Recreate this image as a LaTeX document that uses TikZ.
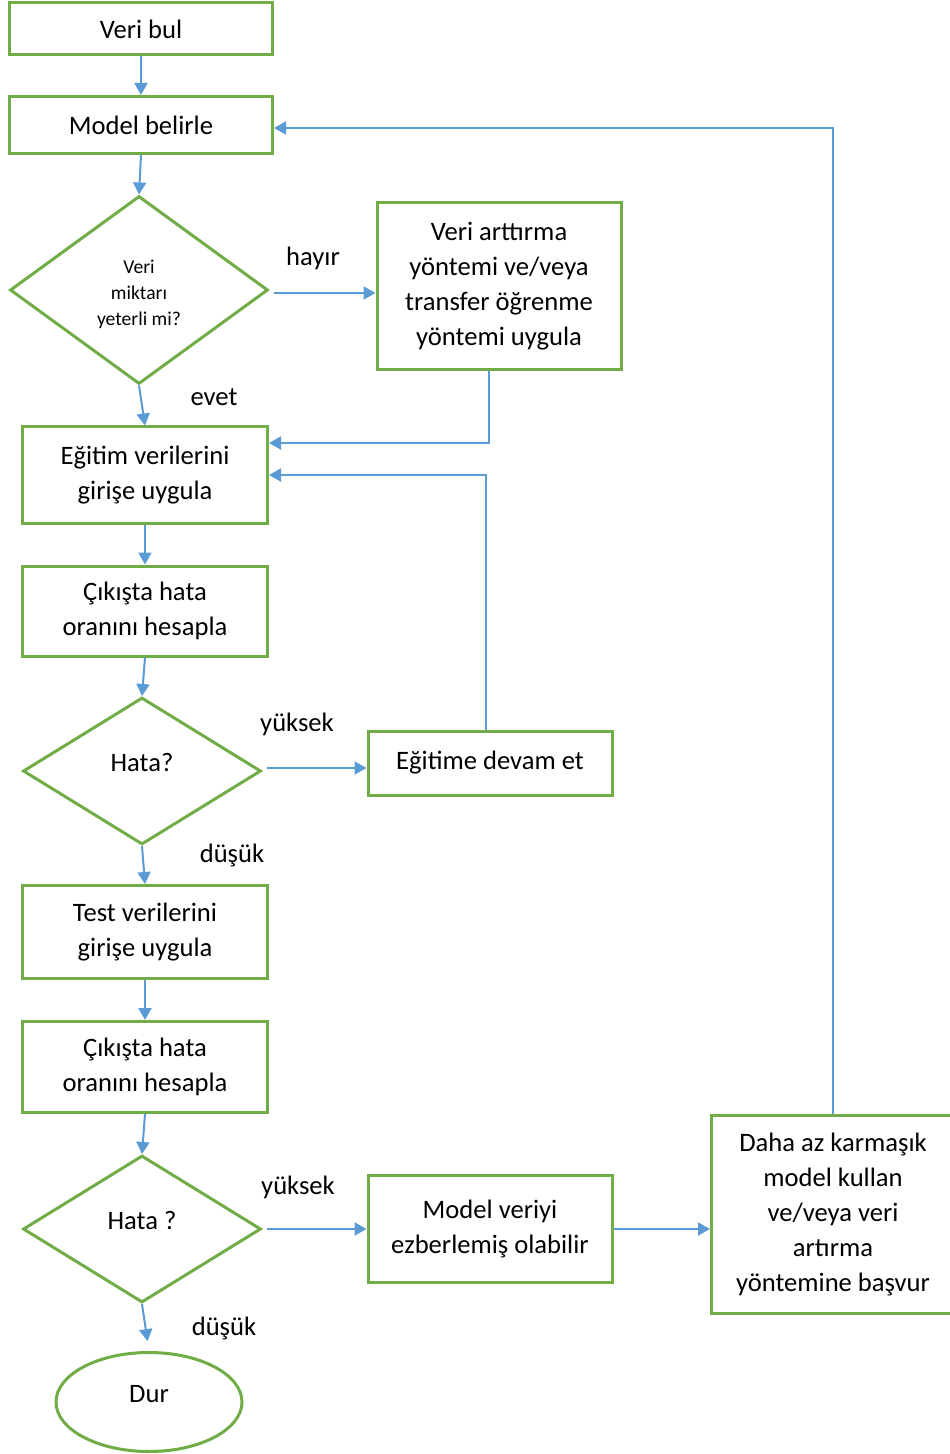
\documentclass[tikz,border=0pt]{standalone}
\usepackage{fontspec}
\setmainfont{Carlito}
\usetikzlibrary{shapes.geometric,arrows.meta}

\definecolor{box edge}{HTML}{70AD47}
\definecolor{link line}{HTML}{5B9BD5}
\tikzset{
  boxtext/.style={font=\fontsize{13.3}{17.5}\selectfont},
  smalltext/.style={font=\fontsize{9.8}{13}\selectfont}
  }
\tikzstyle{process} = [draw=box edge, line width=1.5pt, rectangle, align=center, inner sep=0pt, boxtext]
\tikzstyle{decision} = [draw=box edge, line width=1.5pt, diamond, align=center, inner sep=0pt, boxtext]
\tikzstyle{terminal} = [draw=box edge, line width=1.5pt, ellipse, inner sep=0pt, boxtext]
\tikzstyle{link} = [draw=link line, line width=1pt, -{Triangle[length=6pt,width=6.5pt]}]
\tikzstyle{answer} = [inner sep=1pt, boxtext]

\begin{document}
\begin{tikzpicture}[x=0.5pt, y=-0.5pt]
  \useasboundingbox (0,0) rectangle (949,1454);

  % The main column
  \node[process, minimum width=131.5pt, minimum height=26pt] (find) at (141,29) {Veri bul};
  \node[process, minimum width=131.5pt, minimum height=28.5pt] (model) at (141,125) {Model belirle};
  \node[decision, smalltext, minimum width=129pt, minimum height=94pt] (enough) at (139,290) {\rule{0pt}{11pt}Veri\\miktarı\\yeterli mi?};
  \node[process, minimum width=122.5pt, minimum height=48pt] (train) at (145,475) {Eğitim verilerini\\girişe uygula};
  \node[process, minimum width=122.5pt, minimum height=45pt] (errA) at (145,611) {Çıkışta hata\\oranını hesapla};
  \node[decision, minimum width=119pt, minimum height=73.5pt] (checkA) at (142,771) {Hata?\\[-9pt]};
  \node[process, minimum width=122.5pt, minimum height=46.5pt] (test) at (145,932) {Test verilerini\\girişe uygula};
  \node[process, minimum width=122.5pt, minimum height=45.5pt] (errB) at (145,1067) {Çıkışta hata\\oranını hesapla};
  \node[decision, minimum width=119pt, minimum height=73.5pt] (checkB) at (142,1229) {Hata ?\\[-9pt]};
  \node[terminal, minimum width=93pt, minimum height=49.5pt] (stop) at (149,1402) {Dur\rule[-8pt]{0pt}{8pt}};

  % the side boxes
  \node[process, minimum width=122pt, minimum height=83.5pt] (augment) at (499,286) {Veri arttırma\\yöntemi ve/veya\\transfer öğrenme\\yöntemi uygula};
  \node[process, minimum width=122pt, minimum height=32pt] (resume) at (490,763) {Eğitime devam et};
  \node[process, minimum width=122pt, minimum height=53.5pt] (memo) at (490,1229) {Model veriyi\\ezberlemiş olabilir};
  \node[process, minimum width=121.5pt, minimum height=99pt] (simpler) at (833,1214) {Daha az karmaşık\\model kullan\\ve/veya veri\\artırma\\yöntemine başvur};

  % The answers
  \node[answer] (no) at (313,258) {hayır};
  \node[answer] (yes) at (214,397) {evet};
  \node[answer] (highA) at (297,724) {yüksek};
  \node[answer] (lowA) at (232,855) {düşük};
  \node[answer] (highB) at (298,1187) {yüksek};
  \node[answer] (lowB) at (224,1328) {düşük};

  % The connections down the column
  \foreach \source/\sink in {find/model, model/enough, enough/train, train/errA, errA/checkA, checkA/test, test/errB, errB/checkB}
    \path[link] (\source.south) -- (\sink.north);
  \path[link, shorten >=5pt] (checkB.south) -- (stop.north);

  % and the ones going sideways
  \path[link, shorten <=2pt] ([yshift=-1.5pt]enough.east) -- ([yshift=-1.5pt]enough.east -| augment.west);
  \path[link, shorten <=2pt] ([yshift=1.5pt]checkA.east) -- ([yshift=1.5pt]checkA.east -| resume.west);
  \path[link, shorten <=2pt] (checkB.east) -- (memo.west);
  \path[link] (memo.east) -- (memo.east -| simpler.west);

  % The loops back
  \path[link] ([xshift=-5pt]augment.south) |- ([yshift=16pt]train.east);
  \path[link] ([xshift=-2pt]resume.north) |- (train.east);
  \path[link] (simpler.north) |- ([yshift=-1.5pt]model.east);
\end{tikzpicture}
\end{document}
